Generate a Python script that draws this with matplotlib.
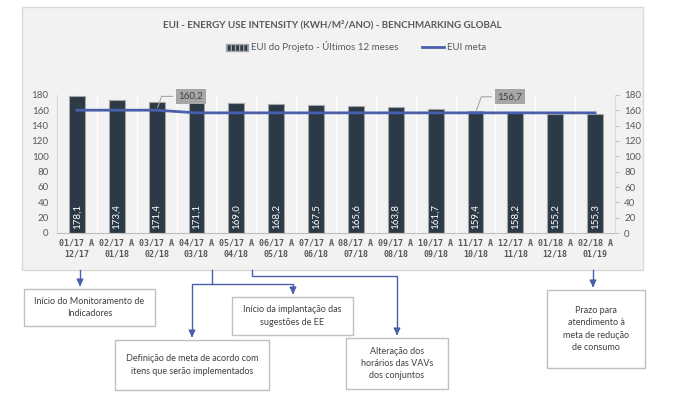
import matplotlib
matplotlib.use('Agg')
import matplotlib.pyplot as plt
from matplotlib.patches import Rectangle, Patch
from matplotlib.lines import Line2D
import numpy as np

plt.rcParams['font.family'] = ['Lato', 'DejaVu Sans']

# data
periodos = ['01/17 A\n12/17', '02/17 A\n01/18', '03/17 A\n02/18', '04/17 A\n03/18',
            '05/17 A\n04/18', '06/17 A\n05/18', '07/17 A\n06/18', '08/17 A\n07/18',
            '09/17 A\n08/18', '10/17 A\n09/18', '11/17 A\n10/18', '12/17 A\n11/18',
            '01/18 A\n12/18', '02/18 A\n01/19']
eui_projeto = [178.1, 173.4, 171.4, 171.1, 169.0, 168.2, 167.5,
               165.6, 163.8, 161.7, 159.4, 158.2, 155.2, 155.3]
eui_meta = [160.2, 160.2, 160.2, 156.7, 156.7, 156.7, 156.7,
            156.7, 156.7, 156.7, 156.7, 156.7, 156.7, 156.7]

W, H = 676, 394
fig = plt.figure(figsize=(W / 100, H / 100), dpi=100)

# overlay in pixel coords for panel, boxes, connectors
ov = fig.add_axes([0, 0, 1, 1], zorder=0)
ov.set_xlim(0, W)
ov.set_ylim(H, 0)
ov.axis('off')
ov.add_patch(Rectangle((22, 7), 621, 263, facecolor='#f2f2f2', edgecolor='#d9d9d9', lw=1))

ov.text(332, 25, 'EUI - ENERGY USE INTENSITY (KWH/M²/ANO) - BENCHMARKING GLOBAL',
        ha='center', va='center', fontsize=7, fontweight='bold', color='#595959')

bar_color = '#2b3a46'
line_color = '#4a5fac'

# chart axes (plot area 57..615 x, 95..233 y in pixels)
ax = fig.add_axes([57 / W, (H - 233) / H, 558 / W, 138 / H], zorder=1)
ax.patch.set_alpha(0)
x = np.arange(len(periodos))
ax.bar(x, eui_projeto, width=0.4, color=bar_color, edgecolor='#a6a6a6', lw=0.8, zorder=2)
ax.plot(x, eui_meta, color=line_color, lw=2, zorder=3)
ax.set_xlim(-0.5, len(periodos) - 0.5)
ax.set_ylim(0, 180)
ax.set_yticks(range(0, 181, 20))
ax.set_xticks(x)
ax.set_xticklabels(periodos, fontsize=6, fontweight='bold', color='#595959',
                   linespacing=1.25, family='DejaVu Sans Mono')
ax.tick_params(axis='x', length=0, pad=4)
ax.tick_params(axis='y', length=0, labelsize=7, labelcolor='#595959', pad=6)
for xb in np.arange(-0.5, len(periodos), 1):
    ax.axvline(xb, color='#ffffff', lw=1, zorder=1)
for s in ['top', 'right']:
    ax.spines[s].set_visible(False)
ax.spines['left'].set_color('#d9d9d9')
ax.spines['bottom'].set_color('#bfbfbf')

for xi, v in zip(x, eui_projeto):
    ax.text(xi, 5, f'{v:.1f}'.replace('.', ','), rotation=90, ha='center', va='bottom',
            color='white', fontsize=7, zorder=4)

ax2 = ax.twinx()
ax2.set_ylim(0, 180)
ax2.set_yticks(range(0, 181, 20))
ax2.tick_params(axis='y', length=3, color='#bfbfbf', labelsize=7, labelcolor='#595959')
for s in ['top', 'left', 'bottom']:
    ax2.spines[s].set_visible(False)
ax2.spines['right'].set_color('#d9d9d9')

# labels on the meta line
for i, off in [(2, (0.55, 18)), (10, (0.55, 21))]:
    ax.annotate(f'{eui_meta[i]:.1f}'.replace('.', ','), xy=(i, eui_meta[i]),
                xytext=(i + off[0], eui_meta[i] + off[1]), fontsize=7, color='#404040',
                ha='left', va='center', zorder=5,
                bbox=dict(boxstyle='square,pad=0.3', fc='#a6a6a6', ec='none'),
                arrowprops=dict(arrowstyle='-', color='#a6a6a6', lw=0.8,
                                connectionstyle='angle,angleA=0,angleB=70,rad=0'))

# legend
handles = [Patch(facecolor=bar_color, edgecolor='#a6a6a6', hatch='||||'),
           Line2D([], [], color=line_color, lw=2)]
ov.legend(handles, ['EUI do Projeto - Últimos 12 meses', 'EUI meta'], loc='center',
          bbox_to_anchor=(356 / W, 1 - 47 / H), bbox_transform=fig.transFigure,
          ncol=2, frameon=False, fontsize=7, handlelength=2.2, handleheight=0.7,
          columnspacing=2.5, handletextpad=0.3, labelcolor='#595959')

# annotation boxes
boxes = [
    ((24, 289, 131, 37), 'Início do Monitoramento de\nIndicadores'),
    ((232, 297, 121, 38), 'Início da implantação das\nsugestões de EE'),
    ((115, 340, 154, 50), 'Definição de meta de acordo com\nitens que serão implementados'),
    ((346, 338, 102, 51), 'Alteração dos\nhorários das VAVs\ndos conjuntos'),
    ((547, 290, 98, 78), 'Prazo para\natendimento à\nmeta de redução\nde consumo'),
]
for (bx, by, bw, bh), txt in boxes:
    ov.add_patch(Rectangle((bx, by), bw, bh, facecolor='white', edgecolor='#bfbfbf', lw=1))
    ov.text(bx + bw / 2, by + bh / 2, txt, ha='center', va='center', fontsize=6.5,
            color='#404040', linespacing=1.5)

# connectors (pixel paths) ending in arrow heads
conn = [
    [(80, 270), (80, 289)],
    [(212, 270), (212, 284), (192, 284), (192, 340)],
    [(212, 284), (293, 284), (293, 297)],
    [(252, 270), (252, 276), (397, 276), (397, 338)],
    [(593, 270), (593, 290)],
]
for path in conn:
    xs, ys = zip(*path)
    ov.plot(xs[:-1] + (xs[-1],), ys[:-1] + (ys[-1] - 6,), color=line_color, lw=1)
    ov.annotate('', xy=path[-1], xytext=(path[-1][0], path[-1][1] - 7),
                arrowprops=dict(arrowstyle='-|>,head_width=0.2,head_length=0.4',
                                color=line_color, lw=1))

fig.savefig('out.png', dpi=100, facecolor='white')
